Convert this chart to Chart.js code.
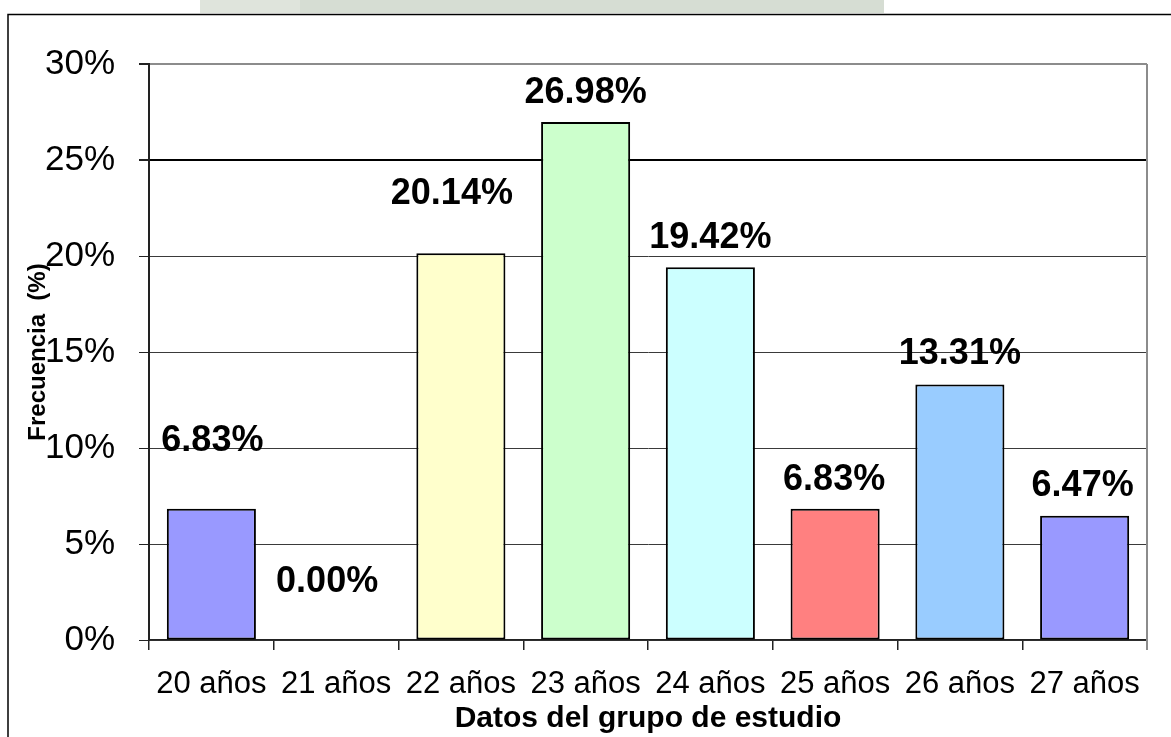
<!DOCTYPE html>
<html lang="es">
<head>
<meta charset="utf-8">
<title>Frecuencia por edad</title>
<script src="https://cdn.jsdelivr.net/npm/chart.js@4.4.1/dist/chart.umd.min.js"></script>
<style>
    html, body { margin: 0; padding: 0; background: #ffffff; }
    #contenedor { width: 1171px; height: 737px; position: relative; }
</style>
</head>
<body>
<div id="contenedor"><canvas id="miGrafico"></canvas></div>
<script>
// datos
const edades = ['20 años', '21 años', '22 años', '23 años', '24 años', '25 años', '26 años', '27 años']
const frecuencias = [6.83, 0.00, 20.14, 26.98, 19.42, 6.83, 13.31, 6.47]
const marcasY = [0, 5, 10, 15, 20, 25, 30]
const coloresBarras = ['#9999ff', '#ffffcc', '#ffffcc', '#ccffcc', '#ccffff', '#ff8080', '#99ccff', '#9999ff']

// desplazamiento de las etiquetas (como en el original, no todas a la misma altura)
const subidaEtiqueta = [71, 61, 62, 32, 32, 32, 33, 33]
const corrimientoEtiqueta = [1, -9, -9, 0, 0, -1, 0, -2]

const fuente = "'Liberation Sans', Arial, sans-serif"

document.addEventListener('DOMContentLoaded', function() {
    const ctx = document.getElementById('miGrafico').getContext('2d')

    const marco = {
        id: 'marco',
        beforeDraw(chart) {
            const c = chart.ctx
            c.save()
            c.fillStyle = '#ffffff'
            c.fillRect(0, 0, chart.width, chart.height)
            // resto de la marca de agua de la pagina escaneada
            c.fillStyle = '#dfe4dc'
            c.fillRect(200, 0, 100, 13)
            c.fillStyle = '#d6ddd3'
            c.fillRect(300, 0, 584, 13)
            c.strokeStyle = '#000000'
            c.lineWidth = 1.5
            c.beginPath()
            c.moveTo(8, chart.height)
            c.lineTo(8, 14.5)
            c.lineTo(chart.width, 14.5)
            c.stroke()
            c.restore()
        },
        afterDraw(chart) {
            const c = chart.ctx
            const a = chart.chartArea
            c.save()
            c.strokeStyle = '#8c8c8c'
            c.lineWidth = 2
            c.beginPath()
            c.moveTo(a.right, a.top)
            c.lineTo(a.right, a.bottom + 10)
            c.stroke()
            c.restore()
        }
    }

    const etiquetas = {
        id: 'etiquetas',
        afterDatasetsDraw(chart) {
            const c = chart.ctx
            const barras = chart.getDatasetMeta(0).data
            c.save()
            c.font = 'bold 36px ' + fuente
            c.fillStyle = '#000000'
            c.textAlign = 'center'
            c.textBaseline = 'alphabetic'
            barras.forEach(function(barra, i) {
                const texto = frecuencias[i].toFixed(2) + '%'
                c.fillText(texto, barra.x + corrimientoEtiqueta[i], barra.y - subidaEtiqueta[i] + 13)
            })
            c.restore()
        }
    }

    new Chart(ctx, {
        type: 'bar',
        data: {
            labels: edades,
            datasets: [{
                label: 'Frecuencia',
                data: frecuencias,
                backgroundColor: coloresBarras,
                borderColor: '#000000',
                borderWidth: 2,
                borderSkipped: false,
                barPercentage: 0.714,
                categoryPercentage: 1
            }]
        },
        options: {
            responsive: true,
            maintainAspectRatio: false,
            animation: false,
            layout: {
                padding: { left: 10, top: 64, right: 24, bottom: 0 }
            },
            plugins: {
                legend: { display: false },
                tooltip: { enabled: false }
            },
            scales: {
                x: {
                    grid: {
                        offset: true,
                        drawOnChartArea: false,
                        tickLength: 10,
                        color: '#222222',
                        lineWidth: 1.5
                    },
                    border: { display: true, color: '#222222', width: 1.5 },
                    ticks: {
                        color: '#000000',
                        font: { family: fuente, size: 31 },
                        padding: 16,
                        maxRotation: 0,
                        autoSkip: false
                    },
                    title: {
                        display: true,
                        text: 'Datos del grupo de estudio',
                        color: '#000000',
                        font: { family: fuente, size: 30, weight: 'bold' },
                        padding: { top: 0, bottom: 0 }
                    },
                    afterFit: function(escala) { escala.height = 97 }
                },
                y: {
                    min: 0,
                    max: 30,
                    afterBuildTicks: function(escala) {
                        escala.ticks = marcasY.map(v => ({ value: v }))
                    },
                    grid: {
                        tickLength: 10,
                        tickColor: '#222222',
                        color: function(c) {
                            if (c.tick && c.tick.value === 30) return '#8c8c8c'
                            if (c.tick && c.tick.value === 25) return '#000000'
                            return '#3a3a3a'
                        },
                        lineWidth: function(c) {
                            if (c.tick && (c.tick.value === 30 || c.tick.value === 25)) return 2
                            return 1
                        }
                    },
                    border: { display: true, color: '#222222', width: 2 },
                    ticks: {
                        color: '#000000',
                        font: { family: fuente, size: 35 },
                        padding: 24,
                        callback: v => v + '%'
                    },
                    title: {
                        display: true,
                        text: 'Frecuencia  (%)',
                        color: '#000000',
                        font: { family: fuente, size: 24, weight: 'bold' },
                        padding: { top: 14, bottom: 0 }
                    },
                    afterFit: function(escala) { escala.width = 139 }
                }
            }
        },
        plugins: [marco, etiquetas]
    })
})
</script>
</body>
</html>
